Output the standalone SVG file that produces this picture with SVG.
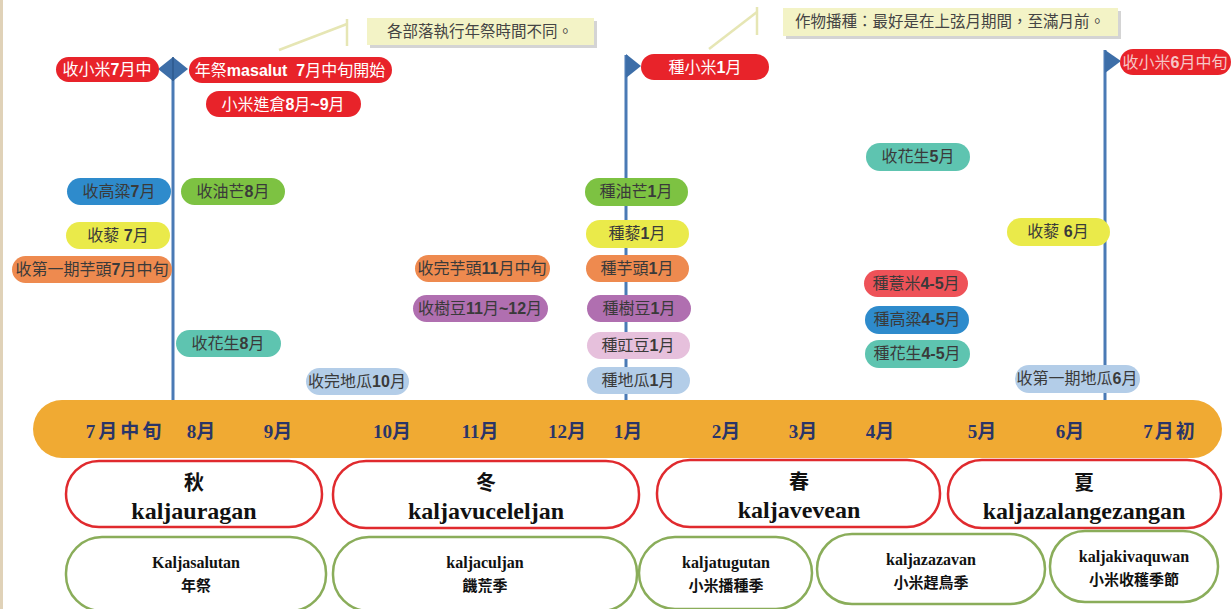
<svg xmlns="http://www.w3.org/2000/svg" width="1231" height="609" viewBox="0 0 1231 609">
<style>
.t{font-family:"Liberation Sans","Noto Sans CJK TC",sans-serif;font-size:16px;text-anchor:middle;fill:#3a3a3a}
.w{fill:#ffffff}
.b{font-weight:bold}
.m{font-family:"Liberation Serif","Noto Sans CJK TC",serif;font-size:19px;font-weight:bold;fill:#2b3568;text-anchor:middle}
.s1{font-family:"Liberation Serif","Noto Sans CJK TC",serif;font-size:20px;font-weight:bold;fill:#111;text-anchor:middle}
.s2{font-family:"Liberation Serif","Noto Sans CJK TC",serif;font-size:24px;font-weight:bold;fill:#111;text-anchor:middle}
.g1{font-family:"Liberation Serif","Noto Sans CJK TC",serif;font-size:16px;font-weight:bold;fill:#111;text-anchor:middle}
.g2{font-family:"Liberation Serif","Noto Sans CJK TC",serif;font-size:15px;font-weight:bold;fill:#111;text-anchor:middle}
.c{font-family:"Liberation Sans","Noto Sans CJK TC",sans-serif;font-size:15.5px;fill:#444;text-anchor:middle}
.red{fill:#e8232a}
.blue{fill:#2e8bcc}
.grn{fill:#7dc242}
.yel{fill:#eaea4a}
.org{fill:#ee8a4f}
.teal{fill:#5ec4b0}
.lb{fill:#b3cde8}
.pur{fill:#b06fb0}
.pink{fill:#e6c0dc}
.rp{fill:#ee5258}
.vl{stroke:#4a7ab5;stroke-width:3;fill:none}
.fl{fill:#3d6ea8}
.sea{fill:#fff;stroke:#e02a2e;stroke-width:2.5}
.sub{fill:#fff;stroke:#8aad5a;stroke-width:2.5}
.cl{stroke:#e6e6b4;stroke-width:2.5;fill:none}
.box{fill:#f3f3c6}
.sh{fill:#b8b8b8;opacity:0.6}
</style>
<rect x="0" y="0" width="1231" height="609" fill="#ffffff"/>
<rect x="0" y="0" width="3" height="609" fill="#e0d2b8"/>

<g id="connectors">
  <line class="vl" x1="173" y1="70" x2="173" y2="402"/>
  <line class="vl" x1="626" y1="55" x2="626" y2="402"/>
  <line class="vl" x1="1105" y1="50" x2="1105" y2="402"/>
  <polyline class="cl" points="279,50 347,24"/>
  <line class="cl" x1="347" y1="19" x2="347" y2="46"/>
  <polyline class="cl" points="709,49 757,12"/>
  <line class="cl" x1="757" y1="7" x2="757" y2="35"/>
</g>

<g id="markers">
  <polygon class="fl" points="173,57 188,69 173,81 158,69"/>
  <line x1="173" y1="57" x2="173" y2="81" stroke="#2e5a8e" stroke-width="1.5"/>
  <polygon class="fl" points="626,54 641,66 626,78"/>
  <polygon class="fl" points="1105,50 1121,61 1105,73"/>
</g>

<g id="callout1">
  <rect class="sh" x="370" y="21" width="227" height="27"/>
  <rect class="box" x="367" y="18" width="227" height="27"/>
  <text class="c" x="480" y="37">各部落執行年祭時間不同。</text>
</g>
<g id="callout2">
  <rect class="sh" x="786" y="11" width="335" height="28"/>
  <rect class="box" x="783" y="8" width="335" height="28"/>
  <text class="c" x="950" y="27">作物播種：最好是在上弦月期間，至滿月前。</text>
</g>

<g id="p1"><rect class="red" x="56" y="57" width="103" height="25" rx="12.5"/><text class="t w" x="107" y="75">收小米<tspan class="b">7</tspan>月中</text></g>
<g id="p2"><rect class="red" x="189" y="57" width="203" height="26" rx="13"/><text class="t w" x="290" y="76">年祭<tspan class="b">masalut&#160; 7</tspan>月中旬開始</text></g>
<g id="p3"><rect class="red" x="206" y="91" width="155" height="26" rx="13"/><text class="t w" x="283" y="110">小米進倉<tspan class="b">8</tspan>月<tspan class="b">~9</tspan>月</text></g>
<g id="p4"><rect class="red" x="641" y="54" width="128" height="26" rx="13"/><text class="t w" x="705" y="73">種小米<tspan class="b">1</tspan>月</text></g>
<g id="p5"><rect class="red" x="1120" y="49" width="111" height="26" rx="13"/><text class="t" x="1175" y="68" style="fill:#f6c6c6">收小米<tspan class="b">6</tspan>月中旬</text></g>

<g id="p6"><rect class="blue" x="67" y="178" width="104" height="27" rx="13.5"/><text class="t" x="119" y="197">收高粱<tspan class="b">7</tspan>月</text></g>
<g id="p7"><rect class="grn" x="181" y="178" width="104" height="27" rx="13.5"/><text class="t" x="233" y="197">收油芒<tspan class="b">8</tspan>月</text></g>
<g id="p8"><rect class="yel" x="66" y="222" width="104" height="27" rx="13.5"/><text class="t" x="118" y="241">收藜 <tspan class="b">7</tspan>月</text></g>
<g id="p9"><rect class="org" x="12" y="256" width="160" height="27" rx="13.5"/><text class="t" x="92" y="275">收第一期芋頭<tspan class="b">7</tspan>月中旬</text></g>
<g id="p10"><rect class="teal" x="176" y="330" width="105" height="27" rx="13.5"/><text class="t" x="228" y="349">收花生<tspan class="b">8</tspan>月</text></g>
<g id="p11"><rect class="lb" x="306" y="368" width="103" height="27" rx="13.5"/><text class="t" x="357" y="387">收完地瓜<tspan class="b">10</tspan>月</text></g>
<g id="p12"><rect class="org" x="415" y="255" width="135" height="27" rx="13.5"/><text class="t" x="482" y="274">收完芋頭<tspan class="b">11</tspan>月中旬</text></g>
<g id="p13"><rect class="pur" x="413" y="295" width="135" height="27" rx="13.5"/><text class="t" x="480" y="314">收樹豆<tspan class="b">11</tspan>月<tspan class="b">~12</tspan>月</text></g>
<g id="p14"><rect class="grn" x="585" y="178" width="103" height="28" rx="14"/><text class="t" x="636" y="197">種油芒<tspan class="b">1</tspan>月</text></g>
<g id="p15"><rect class="yel" x="586" y="220" width="103" height="28" rx="14"/><text class="t" x="637" y="239">種藜<tspan class="b">1</tspan>月</text></g>
<g id="p16"><rect class="org" x="586" y="255" width="103" height="27" rx="13.5"/><text class="t" x="637" y="274">種芋頭<tspan class="b">1</tspan>月</text></g>
<g id="p17"><rect class="pur" x="587" y="295" width="104" height="27" rx="13.5"/><text class="t" x="639" y="314">種樹豆<tspan class="b">1</tspan>月</text></g>
<g id="p18"><rect class="pink" x="587" y="332" width="103" height="27" rx="13.5"/><text class="t" x="638" y="351">種豇豆<tspan class="b">1</tspan>月</text></g>
<g id="p19"><rect class="lb" x="587" y="367" width="103" height="27" rx="13.5"/><text class="t" x="638" y="386">種地瓜<tspan class="b">1</tspan>月</text></g>
<g id="p20"><rect class="teal" x="866" y="143" width="104" height="28" rx="14"/><text class="t" x="918" y="162">收花生<tspan class="b">5</tspan>月</text></g>
<g id="p21"><rect class="yel" x="1007" y="218" width="103" height="28" rx="14"/><text class="t" x="1058" y="237">收藜 <tspan class="b">6</tspan>月</text></g>
<g id="p22"><rect class="rp" x="864" y="270" width="104" height="27" rx="13.5"/><text class="t" x="916" y="289">種薏米<tspan class="b">4-5</tspan>月</text></g>
<g id="p23"><rect class="blue" x="865" y="306" width="104" height="28" rx="14"/><text class="t" x="917" y="325">種高粱<tspan class="b">4-5</tspan>月</text></g>
<g id="p24"><rect class="teal" x="865" y="340" width="105" height="28" rx="14"/><text class="t" x="917" y="359">種花生<tspan class="b">4-5</tspan>月</text></g>
<g id="p25"><rect class="lb" x="1015" y="365" width="125" height="28" rx="14"/><text class="t" x="1077" y="384">收第一期地瓜<tspan class="b">6</tspan>月</text></g>

<g id="ribbon">
  <rect x="33" y="400" width="1189" height="58" rx="29" fill="#f0aa33"/>
  <text class="m" x="125" y="438" letter-spacing="3">7月中旬</text>
  <text class="m" x="201" y="438">8月</text>
  <text class="m" x="278" y="438">9月</text>
  <text class="m" x="392" y="438">10月</text>
  <text class="m" x="480" y="438">11月</text>
  <text class="m" x="567" y="438">12月</text>
  <text class="m" x="628" y="438">1月</text>
  <text class="m" x="726" y="438">2月</text>
  <text class="m" x="803" y="438">3月</text>
  <text class="m" x="880" y="438">4月</text>
  <text class="m" x="982" y="438">5月</text>
  <text class="m" x="1070" y="438">6月</text>
  <text class="m" x="1170" y="438" letter-spacing="2">7月初</text>
</g>

<g id="autumn"><rect class="sea" x="66" y="461" width="256" height="66" rx="33"/><text class="s1" x="194" y="490">秋</text><text class="s2" x="194" y="519">kaljauragan</text></g>
<g id="winter"><rect class="sea" x="333" y="461" width="306" height="67" rx="33"/><text class="s1" x="486" y="490">冬</text><text class="s2" x="486" y="519">kaljavuceleljan</text></g>
<g id="spring"><rect class="sea" x="657" y="460" width="283" height="67" rx="33"/><text class="s1" x="799" y="489">春</text><text class="s2" x="799" y="518">kaljavevean</text></g>
<g id="summer"><rect class="sea" x="948" y="460" width="273" height="68" rx="34"/><text class="s1" x="1084" y="490">夏</text><text class="s2" x="1084" y="519">kaljazalangezangan</text></g>

<g id="s1"><rect class="sub" x="66" y="537" width="260" height="74" rx="36"/><text class="g1" x="196" y="568">Kaljasalutan</text><text class="g2" x="196" y="591">年祭</text></g>
<g id="s2"><rect class="sub" x="333" y="537" width="304" height="74" rx="36"/><text class="g1" x="485" y="568">kaljaculjan</text><text class="g2" x="485" y="591">饑荒季</text></g>
<g id="s3"><rect class="sub" x="639" y="537" width="173" height="72" rx="36"/><text class="g1" x="726" y="568">kaljatugutan</text><text class="g2" x="726" y="591">小米播種季</text></g>
<g id="s4"><rect class="sub" x="817" y="534" width="228" height="70" rx="35"/><text class="g1" x="931" y="565">kaljazazavan</text><text class="g2" x="931" y="588">小米趕鳥季</text></g>
<g id="s5"><rect class="sub" x="1050" y="531" width="168" height="71" rx="35"/><text class="g1" x="1134" y="562">kaljakivaquwan</text><text class="g2" x="1134" y="585">小米收穫季節</text></g>
</svg>
